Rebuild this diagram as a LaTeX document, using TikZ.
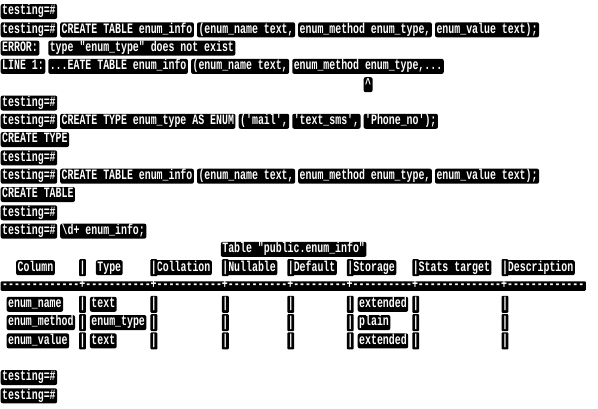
\documentclass[tikz,border=0pt]{standalone}
\usepackage{fontspec}
\newfontfamily\termfont[Ligatures=TeXOff]{Liberation Mono}
\tikzset{
  blk/.style={fill=black, text=white, rounded corners=2pt, anchor=west,
    inner xsep=1.5pt, inner ysep=1.5pt, text height=9.3pt, text depth=2.7pt,
    font={\termfont\bfseries\fontsize{9.9}{10}\selectfont}},
  pipeblk/.style={blk, inner xsep=0.5pt, text height=10.5pt, text depth=3.5pt, rounded corners=1pt},
  dashbar/.style={blk, text height=6pt, text depth=0.5pt, rounded corners=1pt}
}
\newcounter{segc}
\newcommand\seg[3]{\stepcounter{segc}\edef\segname{s\arabic{segc}}%
  \node[blk] (\segname) at ({2+5.95*#2-1.5},{11.5+18.3*#1}) {\scalebox{1}[1.45]{#3}};}
\newcommand\pipeseg[2]{\stepcounter{segc}\edef\segname{p\arabic{segc}}%
  \node[pipeblk] (\segname) at ({2+5.95*#2-0.5},{11.5+18.3*#1}) {\scalebox{1}[1.45]{|}};}
\begin{document}
\begin{tikzpicture}[x=1pt,y=-1pt]
\useasboundingbox (0,0) rectangle (598,408);
\fill[white] (0,0) rectangle (598,408);
% first attempt
\seg{0}{0}{testing=\#}
\seg{1}{0}{testing=\#}
\seg{1}{10}{CREATE TABLE enum\_info}
\seg{1}{33}{(enum\_name text,}
\seg{1}{50}{enum\_method enum\_type,}
\seg{1}{73}{enum\_value text);}
\seg{2}{0}{ERROR:}
\seg{2}{8}{type "enum\_type" does not exist}
\seg{3}{0}{LINE 1:}
\seg{3}{8}{...EATE TABLE enum\_info}
\seg{3}{32}{(enum\_name text,}
\seg{3}{49}{enum\_method enum\_type,...}
\seg{4}{61}{\textasciicircum}
% create type
\seg{5}{0}{testing=\#}
\seg{6}{0}{testing=\#}
\seg{6}{10}{CREATE TYPE enum\_type AS ENUM}
\seg{6}{40}{('mail',}
\seg{6}{49}{'text\_sms',}
\seg{6}{61}{'Phone\_no');}
\seg{7}{0}{CREATE TYPE}
% create table
\seg{8}{0}{testing=\#}
\seg{9}{0}{testing=\#}
\seg{9}{10}{CREATE TABLE enum\_info}
\seg{9}{33}{(enum\_name text,}
\seg{9}{50}{enum\_method enum\_type,}
\seg{9}{73}{enum\_value text);}
\seg{10}{0}{CREATE TABLE}
\seg{11}{0}{testing=\#}
\seg{12}{0}{testing=\#}
\seg{12}{10}{\textbackslash d+ enum\_info;}
% table
\seg{13}{37}{Table "public.enum\_info"}
\seg{14}{2.6}{Column}
\seg{14}{16}{Type}
\seg{14}{26}{Collation}
\seg{14}{38}{Nullable}
\seg{14}{49}{Default}
\seg{14}{59}{Storage}
\seg{14}{70}{Stats target}
\seg{14}{85}{Description}
\foreach \c in {13,25,37,48,58,69,84}{\pipeseg{14}{\c}}
\node[dashbar] (dashes) at ({2-1.5},{11.5+18.3*15}) {\scalebox{1}[1.45]{-------------+-----------+-----------+----------+---------+----------+--------------+-------------}};
% rows
\seg{16}{1}{enum\_name}
\seg{16}{15}{text}
\seg{16}{60}{extended}
\seg{17}{1}{enum\_method}
\seg{17}{15}{enum\_type}
\seg{17}{60}{plain}
\seg{18}{1}{enum\_value}
\seg{18}{15}{text}
\seg{18}{60}{extended}
\foreach \r in {16,17,18}{
  \foreach \c in {13,25,37,48,58,69,84}{\pipeseg{\r}{\c}}
}
\seg{20}{0}{testing=\#}
\seg{21}{0}{testing=\#}
\end{tikzpicture}
\end{document}
